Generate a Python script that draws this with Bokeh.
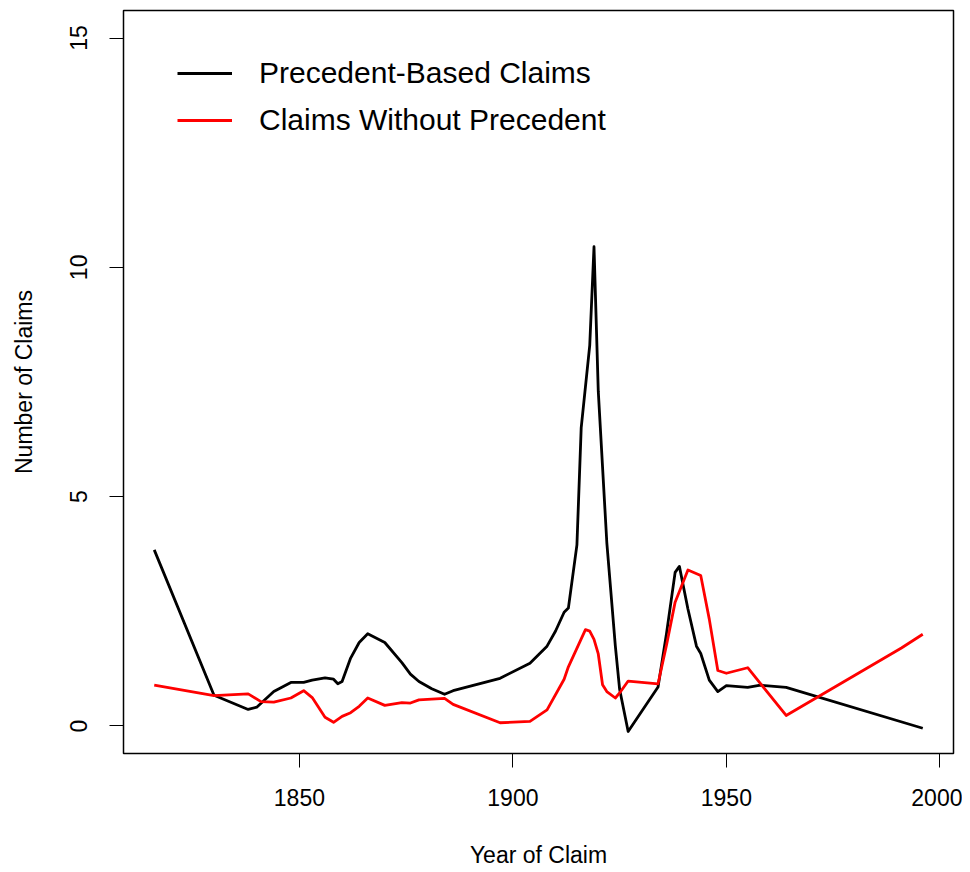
from bokeh.plotting import figure
from bokeh.models import Range1d, FixedTicker, Legend, LegendItem
from bokeh.embed import file_html
from bokeh.resources import INLINE

# ---- data ----
prec_years = [1816, 1830, 1838, 1840, 1844, 1848, 1851, 1853, 1856, 1858, 1859, 1860,
              1862, 1864, 1866, 1870, 1874, 1876, 1878, 1881, 1884, 1886, 1897, 1904,
              1908, 1910, 1912, 1913, 1915, 1916, 1918, 1919, 1920, 1922, 1924, 1925,
              1927, 1934, 1936, 1938, 1939, 1941, 1943, 1944, 1946, 1948, 1950, 1955,
              1958, 1964, 1996]
prec_claims = [3.84, 0.67, 0.36, 0.41, 0.75, 0.95, 0.95, 1.00, 1.05, 1.02, 0.92, 0.97,
               1.48, 1.82, 2.01, 1.82, 1.38, 1.13, 0.97, 0.81, 0.69, 0.77, 1.04, 1.37,
               1.74, 2.07, 2.48, 2.57, 3.95, 6.50, 8.30, 10.45, 7.30, 4.00, 1.74, 0.80,
               -0.12, 0.85, 2.03, 3.35, 3.48, 2.55, 1.74, 1.58, 1.00, 0.75, 0.88, 0.84,
               0.89, 0.84, -0.05]

noprec_years = [1816, 1830, 1838, 1841, 1844, 1848, 1851, 1853, 1856, 1858, 1860, 1862,
                1864, 1866, 1870, 1874, 1876, 1878, 1884, 1886, 1897, 1904, 1908, 1912,
                1913, 1917, 1918, 1919, 1920, 1921, 1922, 1924, 1925, 1927, 1934, 1936,
                1938, 1941, 1944, 1946, 1948, 1950, 1955, 1964, 1991, 1996]
noprec_claims = [0.89, 0.66, 0.70, 0.53, 0.52, 0.61, 0.77, 0.62, 0.19, 0.08, 0.21, 0.29,
                 0.43, 0.61, 0.45, 0.51, 0.50, 0.57, 0.60, 0.47, 0.07, 0.10, 0.35, 1.02,
                 1.29, 2.10, 2.07, 1.89, 1.57, 0.90, 0.75, 0.61, 0.72, 0.98, 0.92, 1.77,
                 2.70, 3.40, 3.28, 2.33, 1.21, 1.15, 1.27, 0.23, 1.70, 2.00]

x_ticks = [1850, 1900, 1950, 2000]
y_ticks = [0, 5, 10, 15]
series_labels = ["Precedent-Based Claims", "Claims Without Precedent"]
x_title = "Year of Claim"
y_title = "Number of Claims"

FONT = "Liberation Sans"

p = figure(frame_width=830, frame_height=743,
           min_border_left=123, min_border_right=9,
           min_border_top=10, min_border_bottom=111,
           output_backend="svg", toolbar_location=None,
           x_range=Range1d(1808.8, 2003.2), y_range=Range1d(-0.6, 15.6))

p.background_fill_color = "white"
p.border_fill_color = "white"
p.grid.visible = False
p.outline_line_color = "black"
p.outline_line_width = 1.5
p.outline_line_alpha = 1.0

p.xaxis.ticker = FixedTicker(ticks=x_ticks, minor_ticks=[])
p.yaxis.ticker = FixedTicker(ticks=y_ticks, minor_ticks=[])
for ax in (p.xaxis[0], p.yaxis[0]):
    ax.axis_line_color = None
    ax.major_tick_in = 0
    ax.major_tick_out = 14
    ax.major_tick_line_color = "black"
    ax.major_tick_line_width = 1
    ax.minor_tick_line_color = None
    ax.major_label_text_font = FONT
    ax.major_label_text_font_size = "23px"
    ax.major_label_text_color = "black"
    ax.axis_label_text_font = FONT
    ax.axis_label_text_font_size = "23px"
    ax.axis_label_text_font_style = "normal"
    ax.axis_label_text_color = "black"

p.xaxis.axis_label = x_title
p.yaxis.axis_label = y_title
p.xaxis.major_label_standoff = 21
p.xaxis.axis_label_standoff = 33
p.yaxis.major_label_orientation = "vertical"
p.yaxis.major_label_standoff = 22
p.yaxis.axis_label_standoff = 31

r1 = p.line(prec_years, prec_claims, line_color="black", line_width=2.8,
            line_join="round")
r2 = p.line(noprec_years, noprec_claims, line_color="#FF0000", line_width=2.8,
            line_join="round")

legend = Legend(items=[LegendItem(label=series_labels[0], renderers=[r1]),
                       LegendItem(label=series_labels[1], renderers=[r2])],
                location=(54, 616), glyph_width=55, glyph_height=34,
                label_height=34, label_standoff=27, spacing=13,
                padding=0, margin=0, border_line_color=None,
                background_fill_alpha=0,
                label_text_font=FONT, label_text_font_size="30px",
                label_text_color="black")
p.add_layout(legend, "center")

open("out.html", "w").write(file_html(p, INLINE))
